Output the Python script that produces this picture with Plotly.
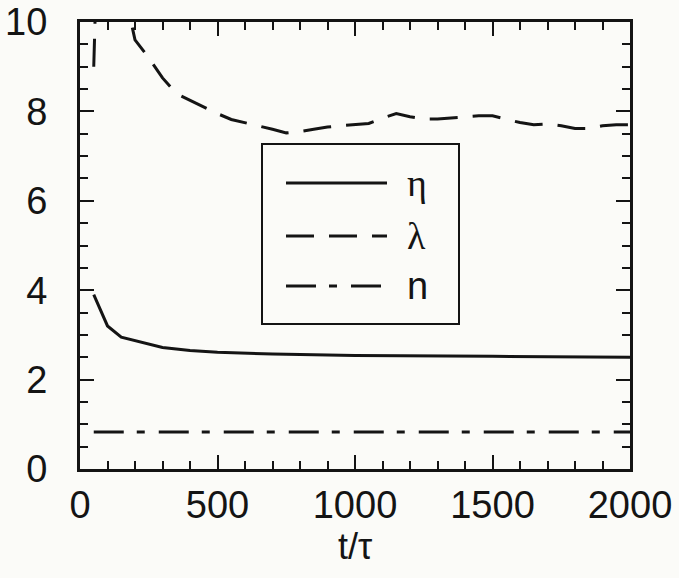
import plotly.graph_objects as go

# ---- data ----
t_eta = [50, 100, 150, 200, 300, 400, 500, 700, 1000, 1500, 2000]
eta = [3.9, 3.2, 2.95, 2.87, 2.72, 2.65, 2.61, 2.57, 2.54, 2.52, 2.5]

t_lam = [50, 100, 150, 200, 250, 300, 350, 400, 450, 500, 550, 600, 650, 700, 750,
         800, 850, 900, 950, 1000, 1050, 1100, 1150, 1200, 1250, 1300, 1350, 1400,
         1450, 1500, 1550, 1600, 1650, 1700, 1750, 1800, 1850, 1900, 1950, 2000]
lam = [9.0, 20.0, 11.0, 9.6, 9.2, 8.75, 8.4, 8.25, 8.1, 7.95, 7.82, 7.75, 7.68, 7.6, 7.52,
       7.55, 7.6, 7.65, 7.68, 7.7, 7.73, 7.85, 7.95, 7.88, 7.83, 7.83, 7.85, 7.87,
       7.9, 7.9, 7.83, 7.75, 7.7, 7.72, 7.68, 7.62, 7.62, 7.68, 7.7, 7.7]

t_n = [50, 500, 1000, 1500, 2000]
n_vals = [0.83, 0.83, 0.83, 0.83, 0.83]

x_ticks = [0, 500, 1000, 1500, 2000]
y_ticks = [0, 2, 4, 6, 8, 10]
legend_names = ["η", "λ", "n"]

INK = "#141414"
BG = "#fbfbf8"
SANS = "Liberation Sans, Arial, Helvetica, sans-serif"
SERIF = "Liberation Serif, Times New Roman, serif"

eta_dash = "solid"
lam_dash = "28px,15px"
n_dash = "30px,13px,8px,14px"

fig = go.Figure()
fig.add_trace(go.Scatter(x=t_eta, y=eta, mode="lines", name=legend_names[0],
                         line=dict(color=INK, width=3, dash=eta_dash)))
fig.add_trace(go.Scatter(x=t_lam, y=lam, mode="lines", name=legend_names[1],
                         line=dict(color=INK, width=3, dash=lam_dash)))
fig.add_trace(go.Scatter(x=t_n, y=n_vals, mode="lines", name=legend_names[2],
                         line=dict(color=INK, width=3, dash=n_dash)))

axis_common = dict(
    showgrid=False, zeroline=False, showline=True, linecolor=INK, linewidth=3,
    mirror="ticks", ticks="inside", tickcolor=INK, tickwidth=2, ticklen=14,
    tickfont=dict(family=SANS, size=38, color=INK), automargin=False,
)

fig.update_xaxes(range=[0, 2000], tickvals=x_ticks, ticktext=[str(v) for v in x_ticks],
                 minor=dict(ticks="inside", dtick=100, ticklen=8, tickcolor=INK, tickwidth=2),
                 ticklabelstandoff=0,
                 title=dict(text="t/τ", font=dict(family=SANS, size=36, color=INK), standoff=0),
                 **axis_common)
fig.update_yaxes(range=[0, 10], tickvals=y_ticks, ticktext=[str(v) for v in y_ticks],
                 minor=dict(ticks="inside", dtick=0.5, ticklen=8, tickcolor=INK, tickwidth=2),
                 ticklabelstandoff=22,
                 **axis_common)

# manual legend box
def px_x(p):
    return (p - 80) / 550.0

def px_y(p):
    return (469 - p) / 447.0

shapes = [dict(type="rect", xref="paper", yref="paper",
               x0=px_x(262), x1=px_x(459), y0=px_y(324), y1=px_y(144),
               line=dict(color=INK, width=2), fillcolor=BG, layer="above")]
annos = []
leg_y = [183, 236, 286]
dashes = [eta_dash, lam_dash, n_dash]
fonts = [SERIF, SERIF, SANS]
for name, yy, d, f in zip(legend_names, leg_y, dashes, fonts):
    shapes.append(dict(type="line", xref="paper", yref="paper",
                       x0=px_x(286), x1=px_x(387), y0=px_y(yy), y1=px_y(yy),
                       line=dict(color=INK, width=3, dash=d), layer="above"))
    annos.append(dict(xref="paper", yref="paper", x=px_x(405), y=px_y(yy),
                      text=name, showarrow=False, xanchor="left", yanchor="middle",
                      font=dict(family=f, size=38, color=INK)))

fig.update_layout(
    width=679, height=578,
    margin=dict(l=80, r=49, t=22, b=109),
    paper_bgcolor=BG, plot_bgcolor=BG,
    showlegend=False,
    shapes=shapes, annotations=annos,
)

fig.write_html("out.html")
